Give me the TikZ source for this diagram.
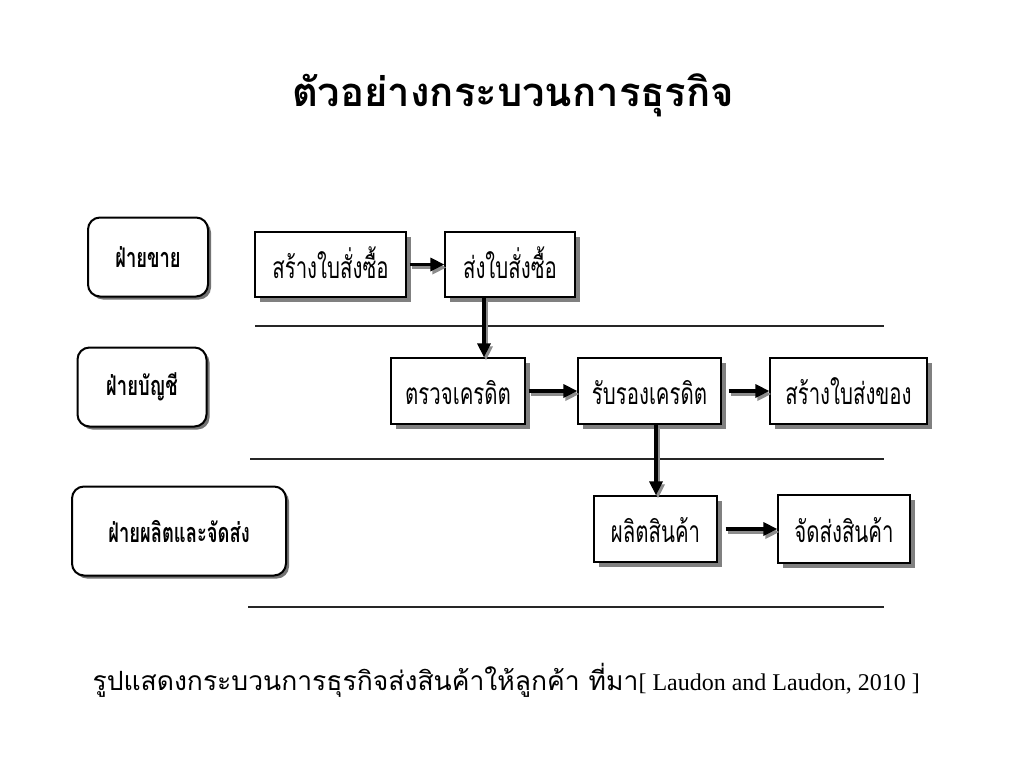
\documentclass[tikz,border=0pt]{standalone}
\usepackage{fontspec}
\setmainfont{Liberation Serif}
\newfontfamily\thaifont[Script=Thai]{Loma}
\newfontfamily\thaicond[Script=Thai,FakeStretch=0.68]{Loma}
\usetikzlibrary{shadows,arrows.meta}
\tikzset{
  lanebox/.style={draw=black, line width=2pt, rounded corners=12pt, fill=white,
    drop shadow={shadow xshift=3pt, shadow yshift=-3pt, fill=black!55, opacity=1},
    font=\thaicond\bfseries\fontsize{27}{30}\selectfont, inner sep=0pt},
  procbox/.style={draw=black, line width=1.2pt, fill=white,
    drop shadow={shadow xshift=5pt, shadow yshift=-5pt, fill=black!50, opacity=1},
    font=\thaicond\fontsize{30}{34}\selectfont, inner sep=0pt,
    text height=30pt, text depth=3pt},
  flow/.style={draw=black, line width=3.2pt, -{Triangle[length=14pt,width=13pt]}},
  flowshadow/.style={draw=black!45, line width=3.2pt, -{Triangle[length=14pt,width=13pt]},
    transform canvas={shift={(2pt,-3pt)}}},
  lane/.style={draw=black!85, line width=1.3pt}
}
\begin{document}
\begin{tikzpicture}[x=1pt,y=-1pt]
\useasboundingbox[fill=white] (0,0) rectangle (1024,768);
% title
\node[font=\thaifont\bfseries\fontsize{40}{44}\selectfont] (title) at (513,95) {ตัวอย่างกระบวนการธุรกิจ};
% lanes labels
\node[lanebox, minimum width=120pt, minimum height=79pt] (l1) at (148,257) {ฝ่ายขาย};
\node[lanebox, minimum width=129pt, minimum height=79pt] (l2) at (142,387) {ฝ่ายบัญชี};
\node[lanebox, minimum width=214pt, minimum height=89pt] (l3) at (179,531) {ฝ่ายผลิตและจัดส่ง};
% process boxes
\node[procbox, minimum width=151pt, minimum height=65pt] (p1) at (330.5,264.5) {สร้างใบสั่งซื้อ};
\node[procbox, minimum width=130pt, minimum height=65pt] (p2) at (510,264.5) {ส่งใบสั่งซื้อ};
\node[procbox, minimum width=134pt, minimum height=66pt] (p3) at (458,391) {ตรวจเครดิต};
\node[procbox, minimum width=143pt, minimum height=66pt] (p4) at (649.5,391) {รับรองเครดิต};
\node[procbox, minimum width=157pt, minimum height=66pt] (p5) at (848.5,391) {สร้างใบส่งของ};
\node[procbox, minimum width=123pt, minimum height=66pt] (p6) at (655.5,529) {ผลิตสินค้า};
\node[procbox, minimum width=132pt, minimum height=68pt] (p7) at (844,529) {จัดส่งสินค้า};
% lane separators
\coordinate (s1a) at (255,326); \coordinate (s1b) at (884,326);
\coordinate (s2a) at (250,459); \coordinate (s2b) at (884,459);
\coordinate (s3a) at (248,607); \coordinate (s3b) at (884,607);
\draw[lane] (s1a) -- (s1b);
\draw[lane] (s2a) -- (s2b);
\draw[lane] (s3a) -- (s3b);
% arrows
\coordinate (v1) at (484,0);
\coordinate (v2) at (656,0);
\draw[flowshadow] ([xshift=3pt]p1.east) -- (p2.west);
\draw[flow] ([xshift=3pt]p1.east) -- (p2.west);
\draw[flowshadow] (v1 |- p2.south) -- (v1 |- p3.north);
\draw[flow] (v1 |- p2.south) -- (v1 |- p3.north);
\draw[flowshadow] ([xshift=3pt]p3.east) -- (p4.west);
\draw[flow] ([xshift=3pt]p3.east) -- (p4.west);
\draw[flowshadow] ([xshift=7pt]p4.east) -- (p5.west);
\draw[flow] ([xshift=7pt]p4.east) -- (p5.west);
\draw[flowshadow] (v2 |- p4.south) -- (v2 |- p6.north);
\draw[flow] (v2 |- p4.south) -- (v2 |- p6.north);
\draw[flowshadow] ([xshift=8pt]p6.east) -- (p7.west);
\draw[flow] ([xshift=8pt]p6.east) -- (p7.west);
% caption
\node[font=\fontsize{24}{28}\selectfont, anchor=west] (cap) at (89,680)
  {{\thaifont\fontsize{26.5}{30}\selectfont รูปแสดงกระบวนการธุรกิจส่งสินค้าให้ลูกค้า ที่มา}[ Laudon and Laudon, 2010 ]};
\end{tikzpicture}
\end{document}
